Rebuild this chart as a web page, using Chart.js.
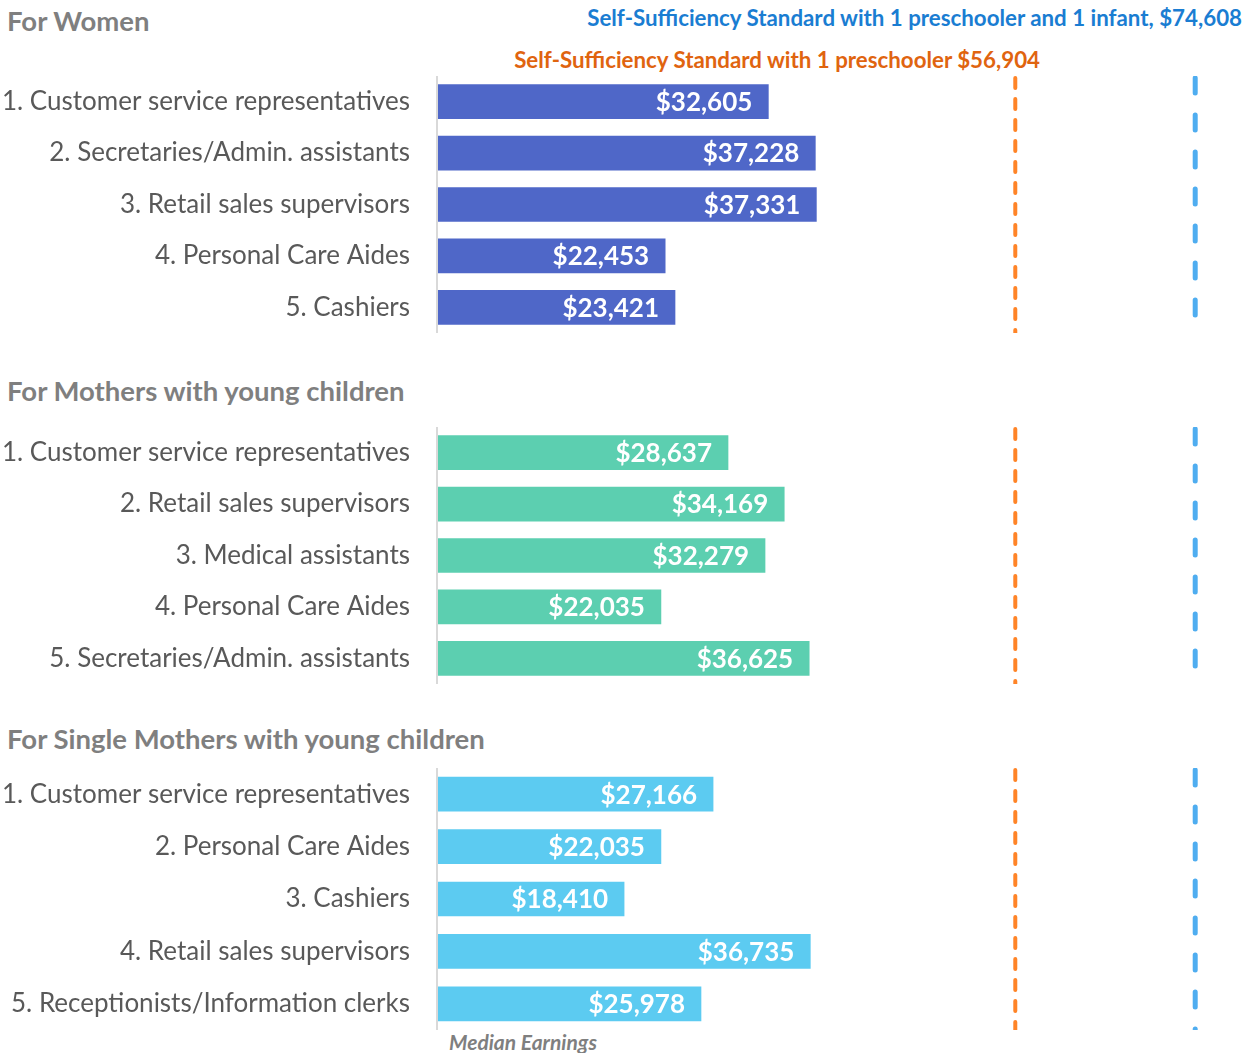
<!DOCTYPE html>
<html>
<head>
<meta charset="utf-8">
<script src="https://cdn.jsdelivr.net/npm/chart.js@4.4.0/dist/chart.umd.min.js"></script>
<style>
  body { margin: 0; background: #fff; width: 1255px; height: 1053px; position: relative; overflow: hidden; font-family: Lato, sans-serif; }
  canvas { position: absolute; left: 0; }
  .title { position: absolute; left: 7px; font-weight: bold; font-size: 27.5px; color: #7f7f7f; white-space: nowrap; }
  .std { position: absolute; font-weight: bold; font-size: 22.3px; white-space: nowrap; }
  .note { position: absolute; left: 449px; top: 1029px; font-weight: bold; font-style: italic; font-size: 21px; color: #7f7f7f; }
</style>
</head>
<body>
<div class="title" style="top:4px">For Women</div>
<div class="std" style="right:13px; top:4px; color:#1a7dd2">Self-Sufficiency Standard with 1 preschooler and 1 infant, $74,608</div>
<div class="std" style="right:215px; top:46px; color:#e0640f">Self-Sufficiency Standard with 1 preschooler $56,904</div>
<div class="title" style="top:374px">For Mothers with young children</div>
<div class="title" style="top:722px">For Single Mothers with young children</div>
<div class="note">Median Earnings</div>

<canvas id="c1" width="1255" height="257" style="top:76px"></canvas>
<canvas id="c2" width="1255" height="257" style="top:427px"></canvas>
<canvas id="c3" width="1255" height="262" style="top:768px"></canvas>

<script>
  const womenJobs = ['1. Customer service representatives', '2. Secretaries/Admin. assistants', '3. Retail sales supervisors', '4. Personal Care Aides', '5. Cashiers'];
  const womenEarnings = [32605, 37228, 37331, 22453, 23421];

  const mothersJobs = ['1. Customer service representatives', '2. Retail sales supervisors', '3. Medical assistants', '4. Personal Care Aides', '5. Secretaries/Admin. assistants'];
  const mothersEarnings = [28637, 34169, 32279, 22035, 36625];

  const singleJobs = ['1. Customer service representatives', '2. Personal Care Aides', '3. Cashiers', '4. Retail sales supervisors', '5. Receptionists/Information clerks'];
  const singleEarnings = [27166, 22035, 18410, 36735, 25978];

  const standardOnePreschooler = 56904;
  const standardPreschoolerInfant = 74608;

  const fmt = v => '$' + v.toLocaleString('en-US');

  // value labels, axis line and the two standard lines
  const extras = {
    id: 'extras',
    afterDatasetsDraw(chart) {
      const ctx = chart.ctx;
      const area = chart.chartArea;
      const x = chart.scales.x;
      ctx.save();

      ctx.strokeStyle = '#d9d9d9';
      ctx.lineWidth = 2;
      ctx.beginPath();
      ctx.moveTo(area.left, area.top - 1);
      ctx.lineTo(area.left, area.bottom);
      ctx.stroke();

      ctx.lineCap = 'round';
      ctx.strokeStyle = '#ff8427';
      ctx.lineWidth = 4;
      ctx.setLineDash([10, 11]);
      let px = x.getPixelForValue(standardOnePreschooler);
      ctx.beginPath();
      ctx.moveTo(px, area.top + 2);
      ctx.lineTo(px, area.bottom);
      ctx.stroke();

      ctx.strokeStyle = '#4fadf0';
      ctx.lineWidth = 5;
      ctx.setLineDash([15, 22]);
      px = x.getPixelForValue(standardPreschoolerInfant);
      ctx.beginPath();
      ctx.moveTo(px, area.top + 2);
      ctx.lineTo(px, area.bottom);
      ctx.stroke();
      ctx.setLineDash([]);

      ctx.fillStyle = '#fff';
      ctx.font = 'bold 26px Lato';
      ctx.textAlign = 'right';
      ctx.textBaseline = 'middle';
      chart.getDatasetMeta(0).data.forEach((bar, i) => {
        ctx.fillText(fmt(chart.data.datasets[0].data[i]), bar.x - 16, bar.y + 1);
      });
      ctx.restore();
    }
  };

  function makeChart(id, labels, values, color) {
    return new Chart(document.getElementById(id), {
      type: 'bar',
      data: {
        labels,
        datasets: [{ data: values, backgroundColor: color, barThickness: 34 }]
      },
      options: {
        indexAxis: 'y',
        responsive: false,
        animation: false,
        layout: { autoPadding: false, padding: { left: 0, right: 5, top: 0, bottom: 0 } },
        plugins: { legend: { display: false }, tooltip: { enabled: false } },
        scales: {
          x: { min: 0, max: 80000, display: false },
          y: {
            grid: { display: false, drawTicks: false },
            border: { display: false },
            ticks: { padding: 27, color: '#595959', font: { family: 'Lato', size: 26 } },
            afterFit: scale => {
              scale.width = 437;
              scale.paddingTop = 0;
              scale.paddingBottom = 0;
            }
          }
        }
      },
      plugins: [extras]
    });
  }

  makeChart('c1', womenJobs, womenEarnings, '#4f67c8');
  makeChart('c2', mothersJobs, mothersEarnings, '#5ccfb0');
  makeChart('c3', singleJobs, singleEarnings, '#5ccbf1');
</script>
</body>
</html>
